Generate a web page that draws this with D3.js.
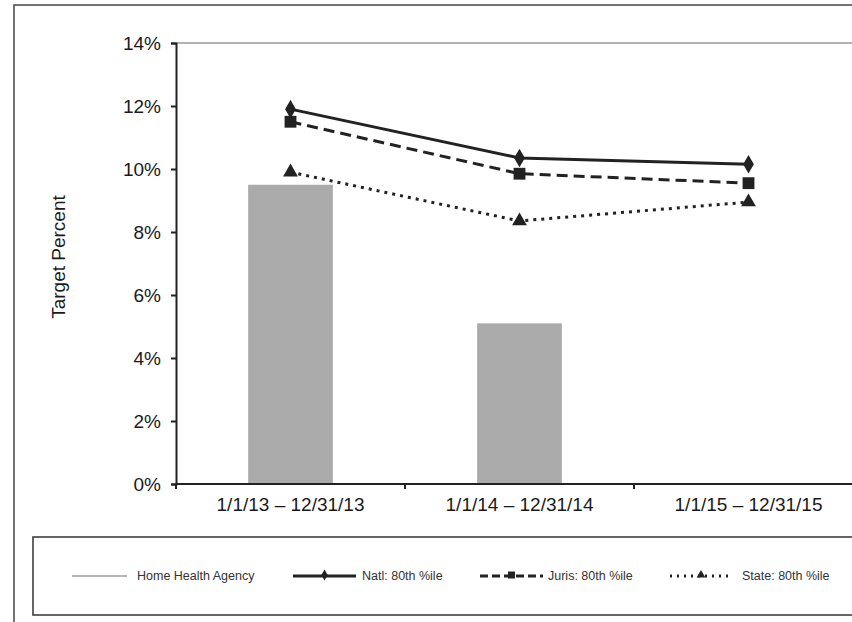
<!DOCTYPE html>
<html lang="en">
<head>
    <meta charset="UTF-8">
    <title>Target Percent</title>
    <script src="https://d3js.org/d3.v7.min.js"></script>
    <style>
        body { margin: 0; background: #fff; }
        svg { font-family: "Liberation Sans", Arial, sans-serif; }
    </style>
</head>
<body>
    <div id="chart"></div>
    <script>
        // values
        const periods = ["1/1/13 \u2013 12/31/13", "1/1/14 \u2013 12/31/14", "1/1/15 \u2013 12/31/15"];
        const agency = [9.5, 5.1, null];
        const natl = [11.9, 10.35, 10.15];
        const juris = [11.5, 9.85, 9.55];
        const state = [9.9, 8.35, 8.95];
        const yTicks = [0, 2, 4, 6, 8, 10, 12, 14];

        const svg = d3.select("#chart")
                      .append("svg")
                      .attr("width", 852)
                      .attr("height", 622);

        // outer frame
        svg.append("rect")
           .attr("x", 14).attr("y", 5)
           .attr("width", 900).attr("height", 700)
           .attr("fill", "none").attr("stroke", "#444").attr("stroke-width", 1.5);

        const plotLeft = 176, plotTop = 43, plotBottom = 484, plotRight = 863;

        const x = d3.scaleBand()
                    .domain(periods)
                    .range([plotLeft, plotRight]);

        const y = d3.scaleLinear()
                    .domain([0, 14])
                    .range([plotBottom, plotTop]);

        // plot area top border
        svg.append("line")
           .attr("x1", plotLeft).attr("x2", 900)
           .attr("y1", y(14)).attr("y2", y(14))
           .attr("stroke", "#999").attr("stroke-width", 1.5);

        // bars
        const barW = x.bandwidth() * 0.37;
        svg.append("g")
           .selectAll("rect")
           .data(periods.map((p, i) => ({ p, v: agency[i] })).filter(d => d.v != null))
           .join("rect")
           .attr("x", d => x(d.p) + x.bandwidth() / 2 - barW / 2)
           .attr("width", barW)
           .attr("y", d => y(d.v))
           .attr("height", d => y(0) - y(d.v))
           .attr("fill", "#ababab");

        // axes
        const yAxis = svg.append("g")
                         .attr("transform", `translate(${plotLeft},0)`)
                         .call(d3.axisLeft(y).tickValues(yTicks).tickFormat(d => d + "%").tickSize(5).tickPadding(10));
        const xAxis = svg.append("g")
                         .attr("transform", `translate(0,${plotBottom})`)
                         .call(d3.axisBottom(x).tickSize(0).tickPadding(14));

        [yAxis, xAxis].forEach(a => {
            a.select(".domain").attr("stroke", "#222").attr("stroke-width", 2);
            a.selectAll(".tick line").attr("stroke", "#222").attr("stroke-width", 2);
            a.selectAll("text").attr("fill", "#1a1a1a").style("font-size", "19px");
        });
        xAxis.select(".domain").attr("d", `M${plotLeft},0H900`);

        // category boundary ticks
        svg.append("g")
           .selectAll("line")
           .data(periods)
           .join("line")
           .attr("x1", d => x(d)).attr("x2", d => x(d))
           .attr("y1", plotBottom).attr("y2", plotBottom + 5)
           .attr("stroke", "#222").attr("stroke-width", 2);

        svg.append("text")
           .attr("transform", `translate(65,257) rotate(-90)`)
           .attr("text-anchor", "middle")
           .attr("fill", "#1a1a1a")
           .style("font-size", "19px")
           .text("Target Percent");

        const series = [
            { name: "Natl: 80th %ile", values: natl, dash: null, symbol: d3.symbolDiamond, size: 100 },
            { name: "Juris: 80th %ile", values: juris, dash: "11,6", symbol: d3.symbolSquare, size: 140 },
            { name: "State: 80th %ile", values: state, dash: "3,5", symbol: d3.symbolTriangle, size: 95 }
        ];

        const cx = p => x(p) + x.bandwidth() / 2;
        const line = d3.line()
                       .x((d, i) => cx(periods[i]))
                       .y(d => y(d));

        series.forEach(s => {
            svg.append("path")
               .datum(s.values)
               .attr("fill", "none")
               .attr("stroke", "#222")
               .attr("stroke-width", 3)
               .attr("stroke-dasharray", s.dash)
               .attr("d", line);
            svg.append("g")
               .selectAll("path")
               .data(s.values)
               .join("path")
               .attr("transform", (d, i) => `translate(${cx(periods[i])},${y(d)})`)
               .attr("d", d3.symbol().type(s.symbol).size(s.size))
               .attr("fill", "#222");
        });

        // legend
        svg.append("rect")
           .attr("x", 33).attr("y", 537)
           .attr("width", 900).attr("height", 78)
           .attr("fill", "none").attr("stroke", "#333").attr("stroke-width", 1.5);

        const legendY = 576;
        const legend = [
            { name: "Home Health Agency", x1: 72, x2: 127, tx: 137, stroke: "#b5b5b5", w: 2, dash: null },
            { name: series[0].name, x1: 293, x2: 356, tx: 362, stroke: "#222", w: 3, dash: null, s: series[0] },
            { name: series[1].name, x1: 480, x2: 543, tx: 548, stroke: "#222", w: 3, dash: "8,4", s: series[1] },
            { name: series[2].name, x1: 670, x2: 732, tx: 742, stroke: "#222", w: 3, dash: "2,5", s: series[2] }
        ];
        legend.forEach(l => {
            svg.append("line")
               .attr("x1", l.x1).attr("x2", l.x2)
               .attr("y1", legendY).attr("y2", legendY)
               .attr("stroke", l.stroke).attr("stroke-width", l.w)
               .attr("stroke-dasharray", l.dash);
            if (l.s) {
                svg.append("path")
                   .attr("transform", `translate(${(l.x1 + l.x2) / 2},${legendY - 1})`)
                   .attr("d", d3.symbol().type(l.s.symbol).size(l.s.size * 0.35))
                   .attr("fill", "#222");
            }
            svg.append("text")
               .attr("x", l.tx).attr("y", legendY)
               .attr("dy", "0.35em")
               .attr("fill", "#333")
               .style("font-size", "12.5px")
               .text(l.name);
        });
    </script>
</body>
</html>
